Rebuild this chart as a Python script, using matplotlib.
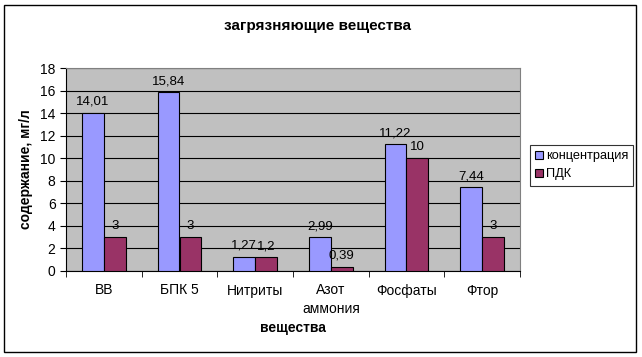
import numpy as np
import matplotlib
matplotlib.use("Agg")
import matplotlib.pyplot as plt
from matplotlib.patches import Rectangle

plt.rcParams['font.family'] = ['Liberation Sans', 'DejaVu Sans']

# data
categories = ["ВВ", "БПК 5", "Нитриты", "Азот\nаммония", "Фосфаты", "Фтор"]
concentration = [14.01, 15.84, 1.27, 2.99, 11.22, 7.44]
pdk = [3, 3, 1.2, 0.39, 10, 3]
conc_labels = ["14,01", "15,84", "1,27", "2,99", "11,22", "7,44"]
pdk_labels = ["3", "3", "1,2", "0,39", "10", "3"]

fig = plt.figure(figsize=(6.42, 3.57), dpi=100)
fig.patch.set_facecolor("white")
# outer frame
fig.patches.append(Rectangle((4 / 642, 5 / 357), 632 / 642, 347 / 357,
                             transform=fig.transFigure, fill=False,
                             edgecolor="black", linewidth=1))

ax = fig.add_axes([66 / 642, 1 - 271 / 357, 454 / 642, 203 / 357])
ax.set_facecolor("#C0C0C0")

x = np.arange(len(categories))
w = 0.29
b1 = ax.bar(x - w / 2, concentration, w, color="#9999FF", edgecolor="black",
            linewidth=0.8, label="концентрация", zorder=3)
b2 = ax.bar(x + w / 2, pdk, w, color="#993366", edgecolor="black",
            linewidth=0.8, label="ПДК", zorder=3)

for rect, lab in zip(b1, conc_labels):
    ax.text(rect.get_x() + rect.get_width() / 2, rect.get_height() + 0.45, lab,
            ha="center", va="bottom", fontsize=9.5)
for rect, lab in zip(b2, pdk_labels):
    ax.text(rect.get_x() + rect.get_width() / 2, rect.get_height() + 0.45, lab,
            ha="center", va="bottom", fontsize=9.5)

ax.set_xlim(-0.5, len(categories) - 0.5)
ax.set_ylim(0, 18)
ax.set_yticks(np.arange(0, 19, 2))
ax.yaxis.grid(True, color="black", linewidth=0.8, zorder=1)
ax.set_axisbelow(True)

ax.set_xticks(x)
ax.set_xticklabels(categories, fontsize=10, linespacing=1.45)
ax.tick_params(axis="x", length=0, pad=9)
ax.set_xticks(np.arange(-0.5, len(categories)), minor=True)
ax.tick_params(axis="x", which="minor", length=4, direction="out")
ax.tick_params(axis="y", labelsize=10, length=4, direction="out")

for s in ["top", "right"]:
    ax.spines[s].set_color("#808080")
ax.spines["left"].set_color("black")
ax.spines["bottom"].set_color("black")

ax.set_ylabel("содержание, мг/л", fontsize=10, fontweight="bold", labelpad=5)
ax.set_xlabel("вещества", fontsize=10, fontweight="bold", labelpad=3)
fig.text(318 / 642, 1 - 26 / 357, "загрязняющие вещества",
         ha="center", va="center", fontsize=11, fontweight="bold")

leg = fig.legend(handles=[b1, b2], loc="upper left",
                 bbox_to_anchor=(530 / 642, 1 - 145 / 357), fontsize=9.2,
                 frameon=True, fancybox=False, edgecolor="black",
                 handlelength=0.6, handleheight=0.6, handletextpad=0.25,
                 borderpad=0.4, labelspacing=0.5, borderaxespad=0)
leg.get_frame().set_linewidth(0.8)

fig.savefig("out.png", dpi=100)
